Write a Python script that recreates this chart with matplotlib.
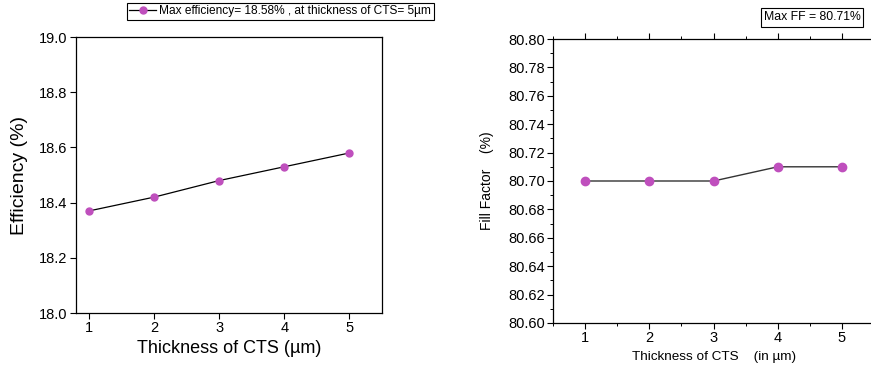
import matplotlib.pyplot as plt
from matplotlib.ticker import MultipleLocator, FormatStrFormatter

plt.rcParams["font.family"] = ["Liberation Sans", "DejaVu Sans"]

thickness = [1, 2, 3, 4, 5]
efficiency = [18.37, 18.42, 18.48, 18.53, 18.58]
fill_factor = [80.70, 80.70, 80.70, 80.71, 80.71]

eff_label = "Max efficiency= 18.58% , at thickness of CTS= 5µm"
ff_label = "Max FF = 80.71%"

marker_color = "#bf4fbd"

fig = plt.figure(figsize=(8.71, 3.74), dpi=100)

# left panel: efficiency
ax1 = fig.add_axes([0.0873, 0.163, 0.3513, 0.738])
ax1.plot(thickness, efficiency, color="black", linewidth=0.9, marker="o",
         markersize=5, markerfacecolor=marker_color, markeredgecolor=marker_color,
         label=eff_label)
ax1.set_xlim(0.8, 5.5)
ax1.set_ylim(18.0, 19.0)
ax1.xaxis.set_major_locator(MultipleLocator(1))
ax1.yaxis.set_major_locator(MultipleLocator(0.2))
ax1.yaxis.set_major_formatter(FormatStrFormatter("%.1f"))
ax1.tick_params(direction="out", length=4, width=0.8, labelsize=10.5, pad=2)
ax1.set_xlabel("Thickness of CTS (µm)", fontsize=13, labelpad=3)
ax1.set_ylabel("Efficiency (%)", fontsize=14, labelpad=8)
for s in ax1.spines.values():
    s.set_linewidth(0.9)
leg = ax1.legend(loc="upper left", bbox_to_anchor=(127 / 871, 1 - 3 / 374),
                 bbox_transform=fig.transFigure, fontsize=8.6, fancybox=False,
                 edgecolor="black", framealpha=1, handlelength=2.2,
                 handletextpad=0.3, borderpad=0.2, borderaxespad=0)
leg.get_frame().set_linewidth(0.8)

# right panel: fill factor
ax2 = fig.add_axes([0.635, 0.1364, 0.3685, 0.7593])
ax2.plot(thickness, fill_factor, color="#333333", linewidth=1.0, marker="o",
         markersize=6, markerfacecolor=marker_color, markeredgecolor=marker_color)
ax2.set_xlim(0.5, 5.5)
ax2.set_ylim(80.60, 80.80)
ax2.xaxis.set_major_locator(MultipleLocator(1))
ax2.xaxis.set_minor_locator(MultipleLocator(0.5))
ax2.yaxis.set_major_locator(MultipleLocator(0.02))
ax2.yaxis.set_minor_locator(MultipleLocator(0.01))
ax2.yaxis.set_major_formatter(FormatStrFormatter("%.2f"))
ax2.tick_params(which="major", direction="out", length=4, width=0.8,
                labelsize=10.5, pad=2)
ax2.tick_params(which="minor", direction="out", length=2, width=0.7)
ax2.tick_params(axis="x", which="both", top=True, labeltop=False)
ax2.tick_params(axis="x", which="major", length=4)
ax2.set_xlabel("Thickness of CTS    (in µm)", fontsize=9.7, labelpad=4)
ax2.set_ylabel("Fill Factor    (%)", fontsize=10, labelpad=10)
for s in ax2.spines.values():
    s.set_linewidth(0.9)

fig.text(812 / 871, 1 - 17.5 / 374, ff_label, fontsize=8.8, ha="center", va="center",
         bbox=dict(boxstyle="square,pad=0.25", facecolor="white", edgecolor="black",
                   linewidth=0.8))

fig.savefig("out.png", dpi=100)
